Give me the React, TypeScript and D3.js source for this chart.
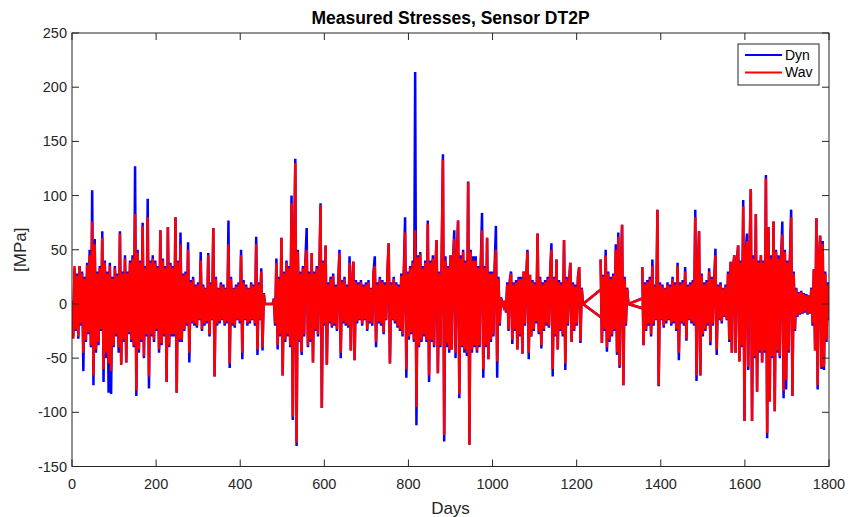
import React from "react";
import * as d3 from "d3";

// Sample spacing: one value every 3 days, starting at day 0
const STEP_DAYS = 3;

// Dyn series (MPa), 60 days per row
const dyn: (number | null)[] = [
  3, -30, 33, -25, 28, -32, 35, -20, 30, -62, 25, -35, 38, -28, 50, -40, 105, -75, 60, -45,
  30, -38, 35, -25, 67, -72, 40, -50, 30, -82, 38, -83, 25, -40, 35, -30, 28, -45, 67, -56,
  30, -35, 45, -54, 30, -28, 40, -35, 45, -40, 127, -85, 50, -45, 40, -35, 75, -50, 35, -30,
  97, -78, 40, -30, 45, -35, 40, -25, 35, -45, 68, -38, 42, -30, 35, -72, 71, -40, 38, -30,
  35, -30, 80, -82, 40, -35, 66, -35, 28, -25, 30, -20, 57, -54, 22, -18, 25, -20, 18, -22,
  20, -15, 48, -25, 18, -20, 15, -18, 47, -30, 20, -15, 70, -67, 25, -20, 15, -18, 20, -15,
  18, -20, 15, -18, 77, -59, 25, -20, 15, -22, 18, -15, 20, -18, 50, -51, 22, -15, 18, -20,
  15, -18, 20, -15, 18, -20, 62, -47, 20, -15, 33, -43, 10, 0, 0, 0, 0, 0, 0, 0,
  5, -20, 42, -42, 25, -30, 61, -66, 30, -35, 40, -30, 35, -40, 100, -107, 45, 134, -131, 50,
  -35, 30, -47, 35, -30, 40, 70, -40, 30, -35, 47, -54, 30, -25, 35, -30, 25, 93, -96, 40,
  -20, 54, -56, 20, -18, 25, -22, 28, -20, 18, -25, 20, 50, -50, 22, -18, 25, -20, 18, -22,
  44, -43, 20, 39, -52, 22, -18, 20, -15, 22, -20, 18, -15, 20, -25, 22, -18, 15, -20, 30,
  44, -40, 20, -18, 25, -20, 22, -28, 20, -15, 30, 56, -55, 20, -15, 25, -18, 20, -22, 18,
  -25, 28, -30, 30, 80, -68, 30, -33, 35, -28, 40, -35, 214, -112, 45, -40, 48, -35, 35, -30,
  40, -35, 77, -72, 40, -35, 45, -40, 35, 59, -64, 30, -40, 45, 138, -127, 44, -40, 35, -45,
  45, -42, 40, 68, -50, 40, 77, -87, 45, -40, 50, -45, 40, -48, 113, -130, 50, -45, 44, -40,
  44, -45, 35, -40, 38, 84, -68, 35, -40, 61, -51, 30, -35, 30, -30, 35, 72, -68, 25, -20,
  6, 2, -2, 3, -8, 20, -25, 22, 30, -37, 20, -25, 22, -42, 25, -30, 25, -46, 30, -20,
  25, 50, -51, 27, -30, 22, -25, 20, -18, 65, -28, 25, -41, 20, -25, 22, -20, 25, -22, 30,
  56, -67, 25, -30, 41, -42, 22, -25, 20, -30, 59, -61, 25, -20, 22, 38, -35, 20, -25, 18,
  -20, 25, 34, -36, 15, 0, null, null, null, null, null, null, null, null, null, null, null, null, null, 41,
  -36, 27, -25, 50, -44, 30, -35, 25, -30, 28, -25, 55, -47, 66, -59, 30, 73, -75, 25, -20,
  15, 0, null, null, null, null, null, null, null, null, null, null, 34, -38, 20, -25, 22, -20, 25, -30,
  41, -20, 18, -15, 87, -76, 20, -15, 18, -22, 15, -18, 20, -15, 18, -20, 25, -18, 20, -25,
  38, -52, 20, -18, 22, -20, 34, -34, 18, -15, 20, -18, 22, -20, 87, -71, 30, 67, -66, 28,
  -30, 20, -25, 22, -20, 33, -38, 25, -20, 22, 51, -47, 18, -15, 20, -18, 15, -12, 18, -15,
  30, -35, 39, -45, 35, 45, -45, 40, 54, -53, 40, -40, 96, -108, 50, 65, -61, 45, 106, -108,
  45, -50, 83, -81, 40, -45, 45, -54, 40, -45, 119, -124, 71, -90, 45, -50, 76, -99, 50, -45,
  45, -50, 40, 76, -87, 50, -79, 40, -45, 40, 87, -85, 30, -25, 15, -12, 11, -10, 12, -9,
  10, -8, 9, -10, 8, -9, 15, -20, 32, -43, 79, -79, 40, 63, -60, 58, -61, 30, -35, 20,
  -15,
];

// Wav series (MPa)
const wav: (number | null)[] = [
  2, -32, 35, -23, 26, -30, 35, -18, 28, -45, 23, -33, 36, -26, 45, -38, 76, -66, 55, -42,
  28, -35, 33, -23, 61, -60, 38, -45, 28, -55, 35, -62, 23, -38, 33, -28, 26, -40, 65, -56,
  28, -33, 42, -54, 28, -26, 38, -33, 42, -38, 83, -80, 47, -42, 38, -33, 72, -48, 33, -28,
  80, -67, 38, -28, 42, -33, 38, -23, 33, -42, 68, -36, 40, -28, 33, -72, 71, -38, 36, -28,
  33, -28, 80, -82, 38, -33, 55, -33, 26, -23, 28, -18, 50, -45, 20, -16, 23, -18, 16, -20,
  18, -14, 40, -23, 16, -18, 14, -16, 45, -28, 18, -14, 70, -67, 23, -18, 14, -16, 18, -14,
  16, -18, 14, -16, 55, -55, 23, -18, 14, -20, 16, -14, 18, -16, 45, -45, 20, -14, 16, -18,
  14, -16, 18, -14, 16, -18, 55, -42, 18, -14, 30, -40, 9, 0, 0, 0, 0, 0, 0, 0,
  4, -18, 38, -38, 23, -28, 61, -66, 28, -33, 38, -28, 33, -38, 93, -104, 42, 130, -128, 48,
  -33, 28, -44, 33, -28, 38, 50, -38, 28, -33, 47, -54, 28, -23, 33, -28, 23, 91, -96, 38,
  -18, 54, -56, 18, -16, 23, -20, 26, -18, 16, -23, 18, 47, -45, 20, -16, 23, -18, 16, -20,
  38, -43, 18, 39, -52, 20, -16, 18, -14, 20, -18, 16, -14, 18, -23, 20, -16, 14, -18, 28,
  35, -35, 18, -16, 23, -18, 20, -26, 18, -14, 28, 56, -55, 18, -14, 23, -16, 18, -20, 16,
  -23, 26, -28, 28, 66, -60, 28, -30, 33, -26, 38, -33, 68, -95, 43, -38, 46, -33, 33, -28,
  38, -33, 74, -66, 38, -33, 42, -38, 33, 59, -64, 28, -38, 42, 133, -121, 40, -36, 33, -42,
  45, -42, 38, 60, -45, 38, 77, -83, 42, -38, 48, -42, 38, -45, 112, -130, 48, -42, 40, -38,
  40, -43, 33, -38, 36, 68, -60, 33, -38, 61, -51, 28, -33, 28, -28, 33, 50, -53, 23, -18,
  5, 2, -2, 3, -7, 18, -23, 20, 28, -33, 18, -23, 20, -42, 23, -28, 23, -46, 30, -18,
  23, 48, -45, 27, -30, 20, -23, 18, -16, 65, -26, 23, -38, 18, -23, 20, -18, 23, -20, 28,
  50, -60, 23, -28, 41, -42, 20, -23, 18, -28, 59, -55, 23, -18, 20, 38, -35, 18, -23, 16,
  -18, 23, 34, -34, 14, 0, null, null, null, null, null, null, null, null, null, null, null, null, null, 41,
  -36, 25, -23, 45, -40, 28, -33, 23, -28, 26, -23, 50, -45, 62, -57, 28, 73, -75, 23, -18,
  14, 0, null, null, null, null, null, null, null, null, null, null, 34, -38, 18, -23, 20, -18, 23, -28,
  35, -18, 16, -14, 87, -75, 18, -14, 16, -20, 14, -16, 18, -14, 16, -18, 23, -16, 18, -23,
  35, -45, 18, -16, 20, -18, 30, -32, 16, -14, 18, -16, 20, -18, 80, -66, 28, 67, -66, 26,
  -28, 18, -23, 20, -18, 30, -35, 23, -18, 20, 45, -42, 16, -14, 18, -16, 14, -11, 16, -14,
  28, -33, 39, -45, 33, 45, -45, 38, 54, -53, 38, -38, 90, -108, 48, 58, -58, 42, 106, -108,
  42, -48, 83, -81, 38, -43, 45, -54, 38, -43, 116, -119, 71, -90, 42, -48, 76, -99, 48, -43,
  42, -48, 38, 64, -80, 48, -70, 38, -43, 38, 80, -85, 28, -23, 14, -11, 10, -9, 11, -8,
  9, -7, 8, -9, 7, -8, 14, -18, 32, -43, 79, -75, 38, 63, -58, 55, -58, 28, -33, 18,
  -14,
];

// Straight connections drawn across data gaps: [dayFrom, valueFrom, dayTo, valueTo]
const gapLinks: number[][] = [
  [1215, 0, 1257, 13],
  [1215, 0, 1257, -12],
  [1323, 0, 1356, 5],
  [1323, 0, 1356, -4],
];

const xTicks = [0, 200, 400, 600, 800, 1000, 1200, 1400, 1600, 1800];
const yTicks = [-150, -100, -50, 0, 50, 100, 150, 200, 250];
const seriesNames = ["Dyn", "Wav"];
const seriesColors = ["#0000ff", "#ff0000"];

const W = 850;
const H = 517;
const L = 72;
const R = 829;
const T = 33;
const B = 466.5;
const FONT = "'Liberation Sans', Arial, Helvetica, sans-serif";
const AX = "#262626";

export default function App() {
  const x = d3.scaleLinear().domain([0, 1800]).range([L, R]);
  const y = d3.scaleLinear().domain([-150, 250]).range([B, T]);

  const line = d3
    .line<number | null>()
    .defined((d) => d !== null)
    .x((_, i) => x(i * STEP_DAYS))
    .y((d) => y(d as number));

  const seriesData = [dyn, wav];
  const tick = 7;

  return (
    <svg
      width={W}
      height={H}
      style={{ position: "absolute", left: 0, top: 0, background: "#fff" }}
      fontFamily={FONT}
    >
      <rect x={0} y={0} width={W} height={H} fill="#fff" />
      <defs>
        <clipPath id="plotclip">
          <rect x={L} y={T} width={R - L} height={B - T} />
        </clipPath>
      </defs>
      <g clipPath="url(#plotclip)">
        {seriesData.map((s, k) => (
          <g key={k}>
            <path d={line(s) || ""} fill="none" stroke={seriesColors[k]} strokeWidth={2.5} />
            {gapLinks.map((g, j) => (
              <line
                key={j}
                x1={x(g[0])}
                y1={y(g[1])}
                x2={x(g[2])}
                y2={y(g[3])}
                stroke={seriesColors[k]}
                strokeWidth={2.5}
              />
            ))}
          </g>
        ))}
      </g>

      {/* axes box */}
      <rect x={L} y={T} width={R - L} height={B - T} fill="none" stroke={AX} strokeWidth={1} />
      {xTicks.map((t) => (
        <g key={"x" + t}>
          <line x1={x(t)} x2={x(t)} y1={B} y2={B - tick} stroke={AX} />
          <line x1={x(t)} x2={x(t)} y1={T} y2={T + tick} stroke={AX} />
          <text x={x(t)} y={489} textAnchor="middle" fontSize={14.5} fill={AX}>
            {t}
          </text>
        </g>
      ))}
      {yTicks.map((t) => (
        <g key={"y" + t}>
          <line x1={L} x2={L + tick} y1={y(t)} y2={y(t)} stroke={AX} />
          <line x1={R} x2={R - tick} y1={y(t)} y2={y(t)} stroke={AX} />
          <text x={67} y={y(t)} dy="0.35em" textAnchor="end" fontSize={14.5} fill={AX}>
            {t}
          </text>
        </g>
      ))}

      <text x={(L + R) / 2} y={24} textAnchor="middle" fontSize={17.5} fontWeight="bold" fill="#000">
        Measured Stresses, Sensor DT2P
      </text>
      <text x={(L + R) / 2} y={514} textAnchor="middle" fontSize={17} fill={AX}>
        Days
      </text>
      <text
        transform={`translate(26, ${(T + B) / 2}) rotate(-90)`}
        textAnchor="middle"
        fontSize={17}
        fill={AX}
      >
        [MPa]
      </text>

      {/* legend */}
      <g>
        <rect x={738} y={44} width={81} height={41} fill="#fff" stroke={AX} strokeWidth={1} />
        {seriesNames.map((n, i) => (
          <g key={n}>
            <line x1={745} x2={782} y1={55 + i * 17.5} y2={55 + i * 17.5} stroke={seriesColors[i]} strokeWidth={2} />
            <text x={785} y={55 + i * 17.5} dy="0.35em" fontSize={14} fill="#000">
              {n}
            </text>
          </g>
        ))}
      </g>
    </svg>
  );
}
